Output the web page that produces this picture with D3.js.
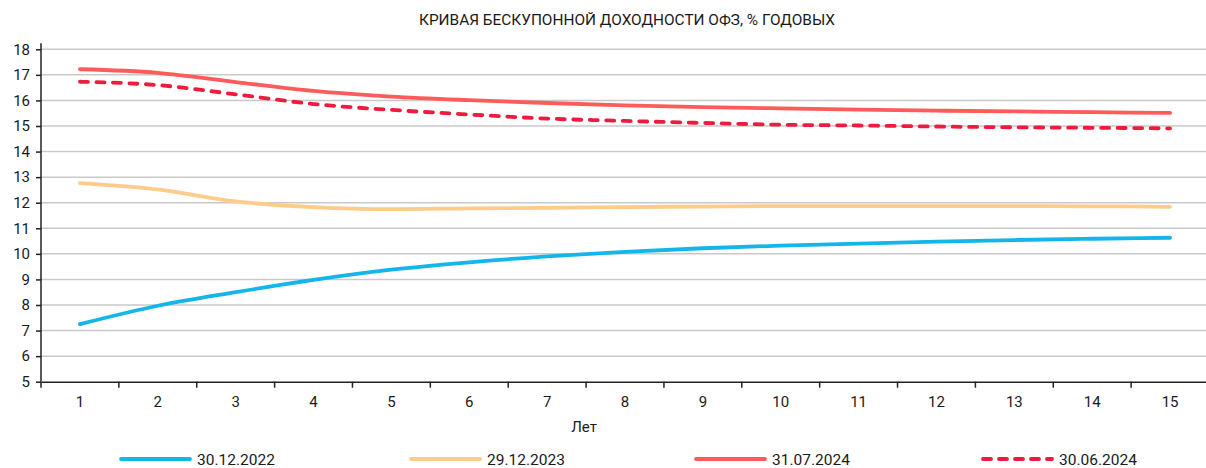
<!DOCTYPE html>
<html><head><meta charset="utf-8">
<script src="https://cdn.jsdelivr.net/npm/d3@7"></script>
<style>body{margin:0;background:#fff}svg{display:block}text{font-family:Roboto,"Liberation Sans",sans-serif;fill:#1a1a1a}</style>
</head><body><svg id="c" width="1206" height="468"></svg>
<script>
const years = [1,2,3,4,5,6,7,8,9,10,11,12,13,14,15];
const yTicks = [5,6,7,8,9,10,11,12,13,14,15,16,17,18];
const s2022 = [7.25,7.97,8.5,8.98,9.38,9.67,9.9,10.08,10.22,10.32,10.4,10.48,10.54,10.59,10.63];
const s2023 = [12.77,12.52,12.05,11.83,11.75,11.78,11.8,11.83,11.85,11.87,11.87,11.87,11.87,11.86,11.84];
const s0724 = [17.22,17.08,16.72,16.37,16.15,16.01,15.9,15.81,15.74,15.69,15.64,15.6,15.57,15.54,15.51];
const s0624 = [16.73,16.6,16.24,15.86,15.63,15.45,15.29,15.2,15.12,15.05,15.02,14.98,14.95,14.93,14.91];
const names = ["30.12.2022","29.12.2023","31.07.2024","30.06.2024"];
const colors = ["#14B6EA","#FDCB8A","#FF5B5B","#EE1B3E"];
const series = [s2022,s2023,s0724,s0624];

const svg = d3.select("#c");
const L=41, R=1209, T=49.3, B=381.7;
const x = d3.scaleBand().domain(years).range([L,R]);
const y = d3.scaleLinear().domain([5,18]).range([B,T]);

svg.append("text").attr("x",627).attr("y",25).attr("text-anchor","middle")
  .style("font-size","14.5px").attr("textLength",416).attr("lengthAdjust","spacingAndGlyphs")
  .text("КРИВАЯ БЕСКУПОННОЙ ДОХОДНОСТИ ОФЗ, % ГОДОВЫХ");

// grid
svg.append("g").selectAll("line").data(yTicks.slice(1)).join("line")
  .attr("x1",L).attr("x2",R).attr("y1",d=>y(d)).attr("y2",d=>y(d))
  .attr("stroke","#c9c9c9").attr("stroke-width",1.5);

const ya = svg.append("g").attr("transform",`translate(${L},0)`)
  .call(d3.axisLeft(y).tickValues(yTicks).tickSize(5).tickPadding(6).tickFormat(d3.format("d")));
ya.select(".domain").attr("stroke","#222").attr("stroke-width",1.5).attr("d",`M0,${T-6}V${B}`);
ya.selectAll(".tick line").attr("stroke","#222").attr("stroke-width",1.5);
ya.selectAll("text").style("font-size","15px").attr("fill","#1a1a1a");

const xa = svg.append("g").attr("transform",`translate(0,${B})`)
  .call(d3.axisBottom(x).tickSize(0).tickPadding(15));
xa.select(".domain").attr("stroke","#222").attr("stroke-width",1.5);
xa.selectAll("text").style("font-size","15px").attr("fill","#1a1a1a");
svg.append("g").selectAll("line").data(years).join("line")
  .attr("x1",d=>x(d)).attr("x2",d=>x(d)).attr("y1",B).attr("y2",B+6)
  .attr("stroke","#222").attr("stroke-width",1.5);

svg.append("text").attr("x",584).attr("y",432).attr("text-anchor","middle")
  .style("font-size","15px").text("Лет");

const line = d3.line().x((d,i)=>x(years[i])+x.bandwidth()/2).y(d=>y(d)).curve(d3.curveMonotoneX);
series.forEach((s,i)=>{
  svg.append("path").attr("d",line(s)).attr("fill","none").attr("stroke",colors[i])
    .attr("stroke-width",3.8).attr("stroke-linecap","round")
    .attr("stroke-dasharray", i===3 ? "8,8.5" : null);
});

// legend
const lx = [121,411,696,983];
names.forEach((n,i)=>{
  svg.append("line").attr("x1",lx[i]).attr("x2",lx[i]+69).attr("y1",459).attr("y2",459)
    .attr("stroke",colors[i]).attr("stroke-width",3.8).attr("stroke-linecap","round")
    .attr("stroke-dasharray", i===3 ? "8,8" : null);
  svg.append("text").attr("x",lx[i]+76).attr("y",465).style("font-size","15.5px").text(n);
});
</script></body></html>
